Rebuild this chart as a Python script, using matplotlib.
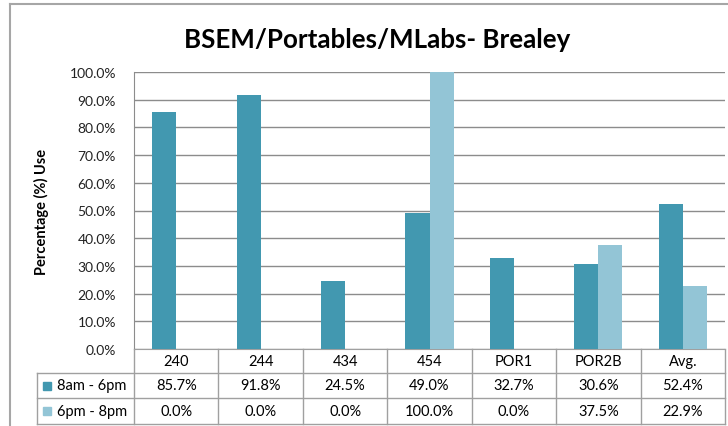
import matplotlib
matplotlib.use("Agg")
import matplotlib.pyplot as plt
from matplotlib.lines import Line2D
from matplotlib.patches import Rectangle
import numpy as np

plt.rcParams['font.family'] = ['Lato', 'DejaVu Sans']

categories = ["240", "244", "434", "454", "POR1", "POR2B", "Avg."]
day_use = [85.7, 91.8, 24.5, 49.0, 32.7, 30.6, 52.4]
eve_use = [0.0, 0.0, 0.0, 100.0, 0.0, 37.5, 22.9]
series_names = ["8am - 6pm", "6pm - 8pm"]
y_ticks = [0, 10, 20, 30, 40, 50, 60, 70, 80, 90, 100]

dark = "#4298b0"
light = "#93c5d6"
grid_c = "#8c8c8c"
line_c = "#a0a0a0"
fs = 10.5

W, H = 728, 427
fig = plt.figure(figsize=(W / 100, H / 100), dpi=100)

# plot area in pixels
left, right, top, bottom = 134, 725, 73, 350
ax = fig.add_axes([left / W, 1 - bottom / H, (right - left) / W, (bottom - top) / H])

x = np.arange(len(categories))
bw = 1 / 3.5
ax.bar(x - bw / 2, day_use, bw, color=dark, zorder=3)
ax.bar(x + bw / 2, eve_use, bw, color=light, zorder=3)

ax.set_xlim(-0.5, len(categories) - 0.5)
ax.set_ylim(0, 100)
ax.set_yticks(y_ticks)
ax.set_yticklabels(["%.1f%%" % v for v in y_ticks], fontsize=10, color="#222222")
ax.set_xticks([])
ax.tick_params(axis="y", length=0, pad=13)
ax.yaxis.grid(True, color=grid_c, lw=1.0, zorder=0)
for s in ["top", "right"]:
    ax.spines[s].set_visible(False)
ax.spines["left"].set_color(grid_c)
ax.spines["bottom"].set_color(line_c)
ax.set_ylabel("Percentage (%) Use", fontsize=10.5, fontweight="bold")
ax.yaxis.set_label_coords((49 - left) / (right - left), 0.5)

fig.text(377 / W, 1 - 40 / H, "BSEM/Portables/MLabs- Brealey", fontsize=18.6,
         fontweight="bold", ha="center", va="center")

# data table under the plot
def ya(py):
    return (bottom - py) / (bottom - top)

def xa(px):
    return (px - left) / (right - left)

rows = [374, 399, 425]
tleft = 37
bt = ax.get_xaxis_transform()

for r in rows:
    ax.add_line(Line2D([xa(tleft), 1], [ya(r), ya(r)], transform=ax.transAxes,
                       color=line_c, lw=1, clip_on=False))
for b in np.arange(-0.5, len(categories)):
    ax.add_line(Line2D([b, b], [0, ya(rows[-1])], transform=bt,
                       color=line_c, lw=1, clip_on=False))
ax.add_line(Line2D([xa(tleft), xa(tleft)], [ya(rows[0]), ya(rows[-1])],
                   transform=ax.transAxes, color=line_c, lw=1, clip_on=False))

for i, c in enumerate(categories):
    ax.text(i, ya((bottom + rows[0]) / 2), c, transform=bt, ha="center",
            va="center", fontsize=fs, clip_on=False)
    ax.text(i, ya((rows[0] + rows[1]) / 2), "%.1f%%" % day_use[i], transform=bt,
            ha="center", va="center", fontsize=fs, clip_on=False)
    ax.text(i, ya((rows[1] + rows[2]) / 2), "%.1f%%" % eve_use[i], transform=bt,
            ha="center", va="center", fontsize=fs, clip_on=False)

for k, (name, col) in enumerate(zip(series_names, [dark, light])):
    yc = (rows[k] + rows[k + 1]) / 2
    fig.patches.append(Rectangle((43 / W, 1 - (yc + 4) / H), 8 / W, 8 / H,
                                 transform=fig.transFigure, color=col))
    fig.text(57 / W, 1 - yc / H, name, fontsize=fs, ha="left", va="center")

# chart border
fig.add_artist(Line2D([10 / W, 1], [1 - 5 / H, 1 - 5 / H], transform=fig.transFigure,
                      color="#a6a6a6", lw=1.5))
fig.add_artist(Line2D([10 / W, 10 / W], [0, 1 - 5 / H], transform=fig.transFigure,
                      color="#a6a6a6", lw=1.5))

fig.savefig("out.png", dpi=100)
